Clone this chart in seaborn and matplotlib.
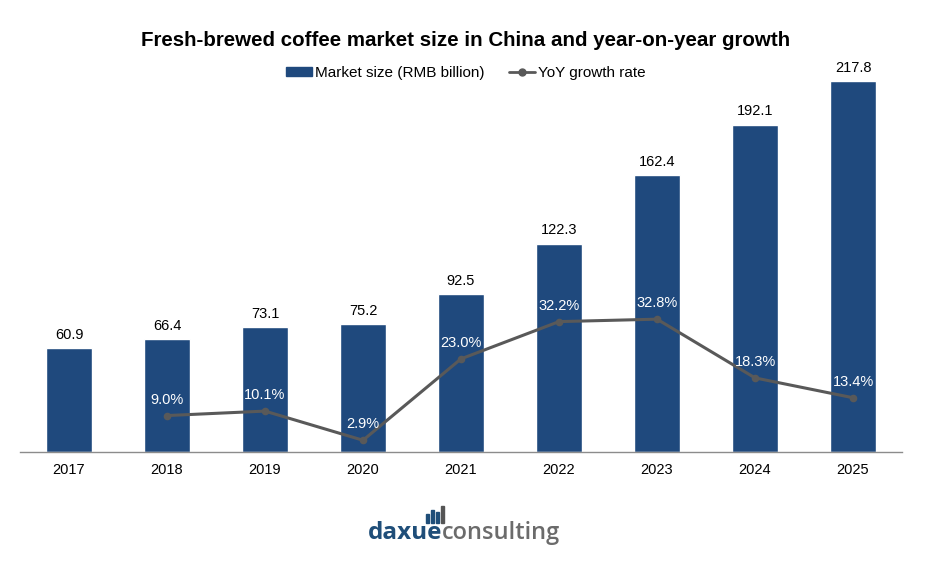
import pandas as pd
import seaborn as sns
import matplotlib.pyplot as plt
from matplotlib.patches import Patch, Rectangle
from matplotlib.lines import Line2D

sns.set_style('white')
plt.rcParams['font.family'] = ['Liberation Sans', 'DejaVu Sans']
plt.rcParams['text.color'] = 'black'
plt.rcParams['xtick.color'] = 'black'

# Market size and YoY growth
years = ['2017', '2018', '2019', '2020', '2021', '2022', '2023', '2024', '2025']
market_size = [60.9, 66.4, 73.1, 75.2, 92.5, 122.3, 162.4, 192.1, 217.8]
growth_years = ['2018', '2019', '2020', '2021', '2022', '2023', '2024', '2025']
growth_rate = [9.0, 10.1, 2.9, 23.0, 32.2, 32.8, 18.3, 13.4]

bar_color = '#1F497D'
line_color = '#595959'

df = pd.DataFrame({'year': years, 'size': market_size})
gdf = pd.DataFrame({'year': growth_years, 'rate': growth_rate})
gdf['pos'] = [years.index(y) for y in gdf['year']]

fig = plt.figure(figsize=(9.32, 5.73), dpi=100)
ax = fig.add_axes([20 / 932, 1 - 452 / 573, 882 / 932, 409 / 573])

sns.barplot(data=df, x='year', y='size', color=bar_color, width=0.46,
            saturation=1, ax=ax)
ax.bar_label(ax.containers[0], fmt='%.1f', padding=4.5, fontsize=10.5, color='black')
ax.set_xlim(-0.5, len(years) - 0.5)
ax.set_ylim(0, 240)
ax.set_xlabel('')
ax.set_ylabel('')
ax.set_yticks([])
ax.tick_params(axis='x', length=0, labelsize=10.5, pad=8)
for s in ['top', 'right', 'left']:
    ax.spines[s].set_visible(False)
ax.spines['bottom'].set_color('#8C8C8C')
ax.spines['bottom'].set_linewidth(1)

ax2 = ax.twinx()
sns.lineplot(data=gdf, x='pos', y='rate', color=line_color, linewidth=2.2,
             marker='o', markersize=5.5, markeredgewidth=0, ax=ax2)
for p, r in zip(gdf['pos'], gdf['rate']):
    ax2.annotate(f'{r:.1f}%', (p, r), xytext=(0, 11.5), textcoords='offset points',
                 ha='center', va='center', color='white', fontsize=10.5)
ax2.set_ylim(0, 101)
ax2.set_xlim(-0.5, len(years) - 0.5)
ax2.set_yticks([])
ax2.set_ylabel('')
ax2.set_xlabel('')
for s in ['top', 'right', 'left', 'bottom']:
    ax2.spines[s].set_visible(False)

fig.text(0.5, 1 - 40 / 573, 'Fresh-brewed coffee market size in China and year-on-year growth',
         ha='center', va='center', fontsize=14.8, fontweight='bold')

handles = [Patch(color=bar_color, label='Market size (RMB billion)'),
           Line2D([], [], color=line_color, marker='o', markersize=5, linewidth=2,
                  label='YoY growth rate')]
fig.legend(handles=handles, loc='center', bbox_to_anchor=(0.5, 1 - 73 / 573), ncol=2,
           frameon=False, fontsize=11, handlelength=1.7, handleheight=0.5,
           handletextpad=0.2, columnspacing=1.6)

# logo
fig.text(442 / 932, 1 - 533 / 573, 'daxue', color='#1F4E79', fontsize=17.5,
         fontweight='bold', family='Open Sans', ha='right', va='center')
fig.text(442 / 932, 1 - 533 / 573, 'consulting', color='#6B6B6B', fontsize=17,
         fontweight='semibold', family='Open Sans', ha='left', va='center')
for x0, h, c in [(426, 9, '#1F4E79'), (431, 13, '#1F4E79'), (436, 11, '#1F4E79'), (441, 17, '#555555')]:
    fig.patches.append(Rectangle((x0 / 932, 1 - 523 / 573), 2.8 / 932, h / 573,
                                 transform=fig.transFigure, color=c))

plt.savefig('out.png', dpi=100)
